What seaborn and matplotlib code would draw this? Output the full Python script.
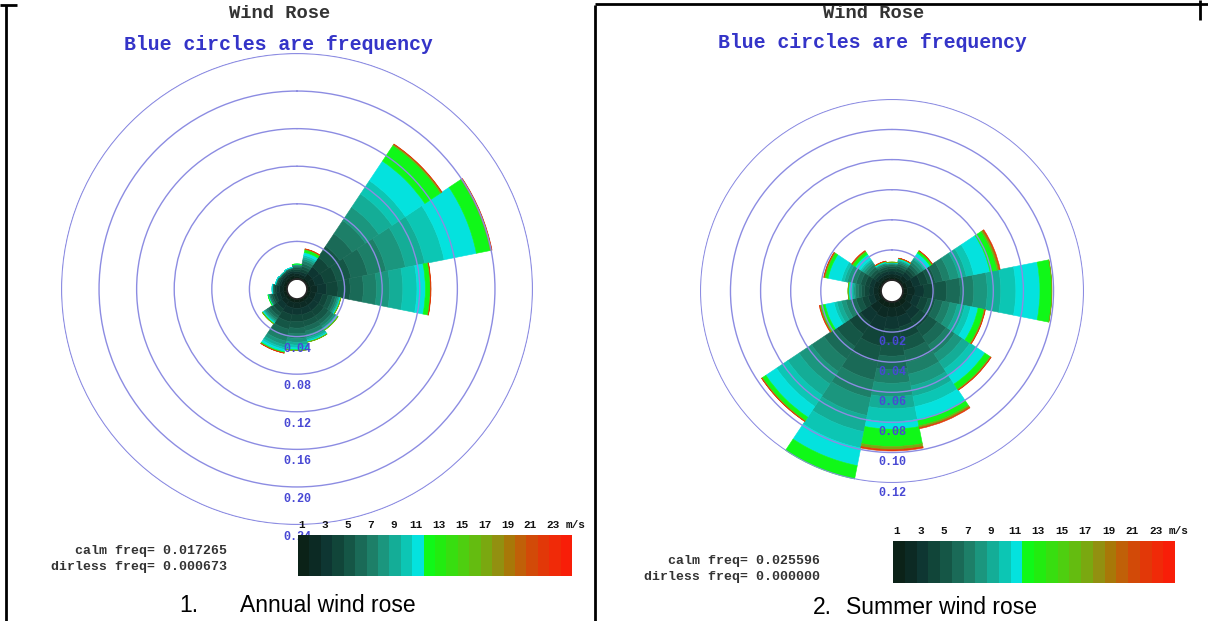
import numpy as np
import matplotlib
matplotlib.use("Agg")
import matplotlib.pyplot as plt
from matplotlib.colors import ListedColormap
from matplotlib.lines import Line2D
import seaborn as sns

W, H = 1208, 621

# ---------------------------------------------------------------- data
directions = ["N", "NNE", "NE", "ENE", "E", "ESE", "SE", "SSE",
              "S", "SSW", "SW", "WSW", "W", "WNW", "NW", "NNW"]

speed_bins = ["0-1", "1-2", "2-3", "3-4", "4-5", "5-6", "6-7", "7-8",
              "8-9", "9-10", "10-11", "11-13", "13-16", "16-25"]
# which colour block of the speed scale each bin is painted with
bin_palette_index = [0, 1, 2, 3, 4, 5, 6, 7, 8, 9, 10, 11, 16, 21]

# one colour block per 1 m/s, 0-24 m/s
speed_palette = ["#0b2218", "#0c2a24", "#0e3632", "#114539", "#155646",
                 "#1a6a57", "#1d7f68", "#1b967e", "#14ad97", "#0cc6b4",
                 "#04e2de", "#10f818", "#22ec10", "#38de10", "#4ecf10",
                 "#64bc10", "#7aa810", "#929010", "#a87808", "#c06008",
                 "#d24a08", "#e23808", "#f02a08", "#f81e08"]

colorbar_ticks = [1, 3, 5, 7, 9, 11, 13, 15, 17, 19, 21, 23]

# frequency per direction (rows) and speed bin (columns)
annual_freq = [
    [0.003, 0.003, 0.002, 0.002, 0.002, 0.0015, 0.001, 0.0007, 0.0004, 0.0002, 0.0001, 0.0001, 0.0, 0.0],
    [0.002, 0.003, 0.003, 0.003, 0.003, 0.003, 0.003, 0.002, 0.002, 0.002, 0.003, 0.003, 0.0007, 0.0003],
    [0.003, 0.006, 0.009, 0.012, 0.014, 0.016, 0.017, 0.017, 0.017, 0.017, 0.025, 0.020, 0.0015, 0.0005],
    [0.003, 0.006, 0.010, 0.013, 0.016, 0.018, 0.020, 0.021, 0.021, 0.021, 0.035, 0.015, 0.0015, 0.0005],
    [0.004, 0.007, 0.010, 0.012, 0.013, 0.014, 0.014, 0.014, 0.014, 0.015, 0.009, 0.005, 0.0007, 0.0003],
    [0.004, 0.006, 0.007, 0.006, 0.005, 0.003, 0.002, 0.0015, 0.001, 0.0006, 0.0005, 0.0003, 0.0001, 0.0],
    [0.004, 0.006, 0.007, 0.007, 0.006, 0.004, 0.003, 0.002, 0.001, 0.0008, 0.0008, 0.0003, 0.0001, 0.0],
    [0.004, 0.006, 0.007, 0.007, 0.006, 0.005, 0.004, 0.003, 0.002, 0.0015, 0.001, 0.0004, 0.0001, 0.0],
    [0.004, 0.006, 0.007, 0.007, 0.007, 0.006, 0.005, 0.004, 0.003, 0.003, 0.002, 0.0008, 0.0002, 0.0],
    [0.004, 0.006, 0.007, 0.008, 0.008, 0.007, 0.006, 0.004, 0.003, 0.002, 0.0025, 0.001, 0.0004, 0.0001],
    [0.004, 0.005, 0.006, 0.005, 0.004, 0.003, 0.002, 0.0015, 0.001, 0.0008, 0.001, 0.0005, 0.0002, 0.0],
    [0.004, 0.004, 0.004, 0.003, 0.002, 0.0015, 0.001, 0.0005, 0.0003, 0.0002, 0.0003, 0.0002, 0.0, 0.0],
    [0.004, 0.004, 0.003, 0.002, 0.0012, 0.0008, 0.0005, 0.0002, 0.0001, 0.0001, 0.0001, 0.0, 0.0, 0.0],
    [0.004, 0.003, 0.002, 0.0015, 0.001, 0.0006, 0.0004, 0.0002, 0.0001, 0.0001, 0.0001, 0.0, 0.0, 0.0],
    [0.004, 0.003, 0.002, 0.0012, 0.0008, 0.0004, 0.0003, 0.0001, 0.0001, 0.0001, 0.0, 0.0, 0.0, 0.0],
    [0.004, 0.003, 0.002, 0.0015, 0.001, 0.0006, 0.0004, 0.0002, 0.0001, 0.0001, 0.0001, 0.0, 0.0, 0.0],
]

summer_freq = [
    [0.002, 0.002, 0.002, 0.0015, 0.0015, 0.001, 0.0005, 0.0005, 0.0003, 0.0002, 0.0002, 0.0002, 0.0001, 0.0],
    [0.002, 0.002, 0.002, 0.002, 0.0015, 0.0015, 0.001, 0.001, 0.0005, 0.0005, 0.0005, 0.0003, 0.0001, 0.0001],
    [0.002, 0.003, 0.003, 0.002, 0.002, 0.002, 0.002, 0.002, 0.001, 0.001, 0.003, 0.0015, 0.0003, 0.0002],
    [0.003, 0.004, 0.005, 0.005, 0.005, 0.005, 0.005, 0.006, 0.005, 0.005, 0.011, 0.005, 0.0013, 0.0007],
    [0.003, 0.005, 0.006, 0.007, 0.008, 0.009, 0.009, 0.009, 0.009, 0.010, 0.016, 0.0078, 0.0002, 0.0],
    [0.003, 0.004, 0.005, 0.005, 0.005, 0.005, 0.005, 0.005, 0.005, 0.004, 0.005, 0.004, 0.0007, 0.0003],
    [0.004, 0.005, 0.006, 0.007, 0.007, 0.007, 0.007, 0.006, 0.006, 0.005, 0.007, 0.004, 0.0007, 0.0003],
    [0.004, 0.006, 0.007, 0.008, 0.008, 0.008, 0.008, 0.008, 0.007, 0.007, 0.009, 0.004, 0.0013, 0.0007],
    [0.004, 0.006, 0.008, 0.009, 0.009, 0.009, 0.009, 0.009, 0.008, 0.0085, 0.005, 0.0115, 0.002, 0.001],
    [0.004, 0.007, 0.009, 0.010, 0.011, 0.012, 0.012, 0.012, 0.011, 0.011, 0.012, 0.010, 0.0012, 0.0008],
    [0.004, 0.006, 0.008, 0.009, 0.010, 0.010, 0.010, 0.010, 0.009, 0.009, 0.0085, 0.0027, 0.0006, 0.0002],
    [0.002, 0.003, 0.004, 0.004, 0.004, 0.004, 0.003, 0.003, 0.003, 0.002, 0.006, 0.003, 0.0006, 0.0004],
    [0.002, 0.003, 0.003, 0.003, 0.002, 0.002, 0.002, 0.001, 0.001, 0.001, 0.0015, 0.0004, 0.0001, 0.0],
    [0.002, 0.003, 0.003, 0.003, 0.003, 0.003, 0.003, 0.003, 0.002, 0.002, 0.009, 0.002, 0.0007, 0.0003],
    [0.002, 0.002, 0.002, 0.002, 0.002, 0.002, 0.002, 0.0015, 0.0015, 0.001, 0.004, 0.002, 0.0006, 0.0004],
    [0.002, 0.002, 0.002, 0.0015, 0.0015, 0.001, 0.001, 0.0005, 0.0003, 0.0002, 0.0005, 0.0003, 0.0001, 0.0001],
]

annual_rings = [0.04, 0.08, 0.12, 0.16, 0.20, 0.24]
summer_rings = [0.02, 0.04, 0.06, 0.08, 0.10, 0.12]

annual_calm, annual_dirless = "0.017265", "0.000673"
summer_calm, summer_dirless = "0.025596", "0.000000"

captions = [("1.", "Annual wind rose"), ("2.", "Summer wind rose")]

# ---------------------------------------------------------------- style
sns.set_theme(style="white")
plt.rcParams["font.family"] = ["Liberation Mono", "DejaVu Sans Mono"]

MONO = "Liberation Mono"
SANS = "Liberation Sans"
RING_COLOUR = "#8c8ce2"
RING_TEXT = "#4848d4"
TITLE_BLUE = "#3434c8"

fig = plt.figure(figsize=(W / 100, H / 100), dpi=100)
fig.patch.set_facecolor("white")


def fx(x):
    return x / W


def fy(y):
    return 1 - y / H


def px_rect(x0, y0, w, h):
    return [x0 / W, 1 - (y0 + h) / H, w / W, h / H]


bin_colours = [speed_palette[i] for i in bin_palette_index]


def draw_rose(cx, cy, radius_px, table, rings, hole, label_gap):
    ax = fig.add_axes(px_rect(cx - radius_px, cy - radius_px,
                              2 * radius_px, 2 * radius_px),
                      projection="polar")
    ax.set_facecolor("none")
    ax.set_theta_zero_location("N")
    ax.set_theta_direction(-1)
    freq = np.array(table)
    n = len(directions)
    theta = np.deg2rad(np.arange(n) * 360.0 / n)
    width = 2 * np.pi / n
    base = np.zeros(n)
    for k in range(freq.shape[1]):
        seg = freq[:, k]
        keep = seg > 0
        # edges in the fill colour close the hairline seams between cells
        ax.bar(theta[keep], seg[keep], width=width, bottom=base[keep],
               color=bin_colours[k], edgecolor=bin_colours[k],
               linewidth=0.4, align="center", zorder=2)
        base += seg
    ax.set_rorigin(-hole)
    ax.set_ylim(0, rings[-1] * 1.002)
    ax.set_xticks([])
    ax.set_yticks(rings)
    ax.set_yticklabels([])
    ax.grid(axis="y", color=RING_COLOUR, linewidth=1.0)
    ax.grid(axis="x", visible=False)
    ax.set_axisbelow(False)
    ax.spines["polar"].set_visible(False)
    for r in rings:
        ax.text(np.pi, r + label_gap, f"{r:.2f}", ha="center", va="center",
                fontsize=8.5, fontweight="bold", family=MONO,
                color=RING_TEXT, zorder=4, clip_on=False)
    return ax


def draw_scale(x0, y0, w, h):
    cax = fig.add_axes(px_rect(x0, y0, w, h))
    strip = np.arange(len(speed_palette))[None, :]
    sns.heatmap(strip, cmap=ListedColormap(speed_palette), cbar=False,
                ax=cax, xticklabels=False, yticklabels=False,
                vmin=-0.5, vmax=len(speed_palette) - 0.5)
    for t in colorbar_ticks:
        cax.text(t - 0.65, -0.12, str(t), ha="center", va="bottom",
                 fontsize=8, fontweight="bold", family=MONO,
                 color="#111111", clip_on=False)
    cax.text(24.3, -0.12, "m/s", ha="center", va="bottom", fontsize=8,
             fontweight="bold", family=MONO, color="#111111", clip_on=False)
    return cax


def draw_panel(cx, cy, radius_px, table, rings, hole, label_gap,
               title_x, title_y, scale_box, calm, dirless, stats_x, stats_y,
               caption, cap_num_x, cap_text_x, cap_y):
    draw_rose(cx, cy, radius_px, table, rings, hole, label_gap)
    draw_scale(*scale_box)
    fig.text(fx(title_x + 2), fy(title_y), "Wind Rose", ha="center",
             va="center", fontsize=13.5, fontweight="bold", family=MONO,
             color="#333333")
    fig.text(fx(title_x), fy(title_y + 30), "Blue circles are frequency",
             ha="center", va="center", fontsize=14.3, fontweight="bold",
             family=MONO, color=TITLE_BLUE)
    fig.text(fx(stats_x), fy(stats_y), f"calm freq= {calm}", ha="right",
             va="center", fontsize=9.5, fontweight="bold", family=MONO,
             color="#333333")
    fig.text(fx(stats_x), fy(stats_y + 16), f"dirless freq= {dirless}",
             ha="right", va="center", fontsize=9.5, fontweight="bold",
             family=MONO, color="#333333")
    fig.text(fx(cap_num_x), fy(cap_y), caption[0], ha="left", va="center",
             fontsize=16.5, family=SANS, color="black")
    fig.text(fx(cap_text_x), fy(cap_y), caption[1], ha="left", va="center",
             fontsize=16.5, family=SANS, color="black")


# annual rose: 940 px per unit frequency, 10 px hole
draw_panel(297, 289, 236, annual_freq, annual_rings, 10 / 940, 12 / 940,
           278, 14, (298, 535, 274, 41), annual_calm, annual_dirless,
           227, 551, captions[0], 179, 240, 605)

# summer rose: 1510 px per unit frequency, 11 px hole
draw_panel(892, 291, 192, summer_freq, summer_rings, 11 / 1510, 10 / 1510,
           872, 13, (893, 541, 282, 42), summer_calm, summer_dirless,
           820, 561, captions[1], 813, 846, 607)

# table cell borders
border = dict(color="black", linewidth=2.0, solid_capstyle="butt")
segments = [
    ((0, 17), (5, 5)),        # top-left stub
    ((6, 6), (5, H)),         # left border
    ((595, 595), (5, H)),     # middle divider
    ((595, W), (4, 4)),       # top border of right cell
    ((1200, 1200), (0, 20)),  # right stub
]
for (xa, xb), (ya, yb) in segments:
    fig.add_artist(Line2D([fx(xa), fx(xb)], [fy(ya), fy(yb)],
                          transform=fig.transFigure, **border))

fig.savefig("out.png", dpi=100, facecolor="white")
